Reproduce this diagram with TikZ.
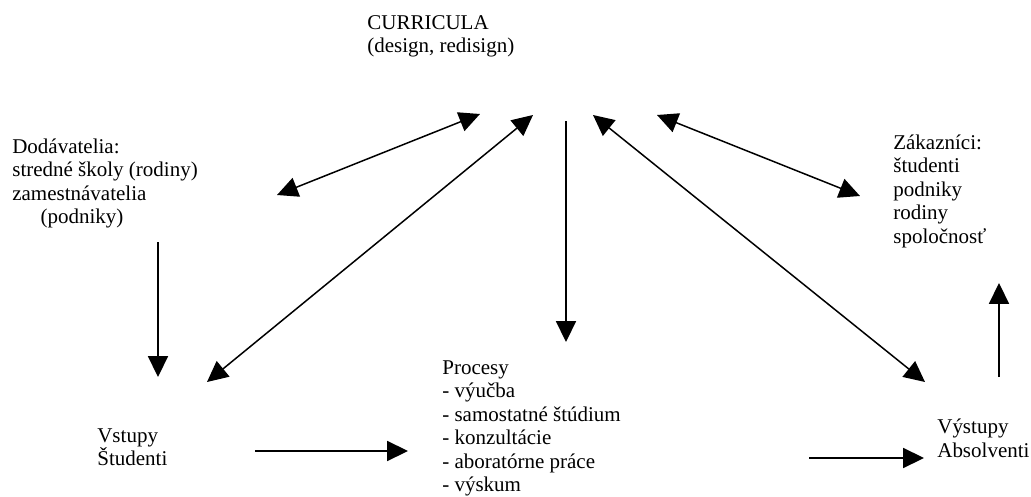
\documentclass[tikz,border=0pt]{standalone}
\usepackage{fontspec}
\setmainfont{Liberation Serif}
\usetikzlibrary{arrows.meta}

\begin{document}
\begin{tikzpicture}[
    x=0.6pt, y=-0.6pt,
    txt/.style={anchor=base west, align=left, inner sep=0pt, font=\fontsize{12.6}{14.1}\selectfont},
    arrow/.style={-{Triangle[length=12.5pt,width=12pt]}, line width=0.9pt},
    twoway/.style={{Triangle[length=12.5pt,width=12pt]}-{Triangle[length=12.5pt,width=12pt]}, line width=0.9pt}
]
\useasboundingbox (0,0) rectangle (1031,497);

% Texts (placed at the baseline of their last line)
\node[txt] (curricula) at (367,52.5) {CURRICULA\\(design, redisign)};
\node[txt] (dodav) at (12,223.5) {Dodávatelia:\\stredné školy (rodiny)\\zamestnávatelia\\\hspace*{17pt}(podniky)};
\node[txt] (zakaz) at (893,243) {Zákazníci:\\študenti\\podniky\\rodiny\\spoločnosť};
\node[txt] (vstupy) at (97,465.5) {Vstupy\\Študenti};
\node[txt] (procesy) at (442,491.5) {Procesy\\- výučba\\- samostatné štúdium\\- konzultácie\\- aboratórne práce\\- výskum};
\node[txt] (vystupy) at (937,457) {Výstupy\\Absolventi};

% Arrow ends
\coordinate (c1) at (480,114);
\coordinate (c2) at (533,115);
\coordinate (c3) at (566,121);
\coordinate (c4) at (593,115);
\coordinate (c5) at (657,115);
\coordinate (dodav-out) at (277,195);
\coordinate (dodav-down) at (158,242);
\coordinate (vstupy-top) at (158,377);
\coordinate (vstupy-in) at (207,382);
\coordinate (vstupy-right) at (255,451);
\coordinate (procesy-top) at (566,342);
\coordinate (procesy-left) at (408,451);
\coordinate (procesy-right) at (809,458);
\coordinate (vystupy-left) at (924,458);
\coordinate (vystupy-in) at (925,382);
\coordinate (vystupy-up) at (999,377);
\coordinate (zakaz-bottom) at (999,283);
\coordinate (zakaz-in) at (860,196);

% Arrows
\draw[twoway] (dodav-out) -- (c1);
\draw[twoway] (vstupy-in) -- (c2);
\draw[arrow] (c3) -- (procesy-top);
\draw[twoway] (vystupy-in) -- (c4);
\draw[twoway] (zakaz-in) -- (c5);
\draw[arrow] (dodav-down) -- (vstupy-top);
\draw[arrow] (vstupy-right) -- (procesy-left);
\draw[arrow] (procesy-right) -- (vystupy-left);
\draw[arrow] (vystupy-up) -- (zakaz-bottom);

\end{tikzpicture}
\end{document}
